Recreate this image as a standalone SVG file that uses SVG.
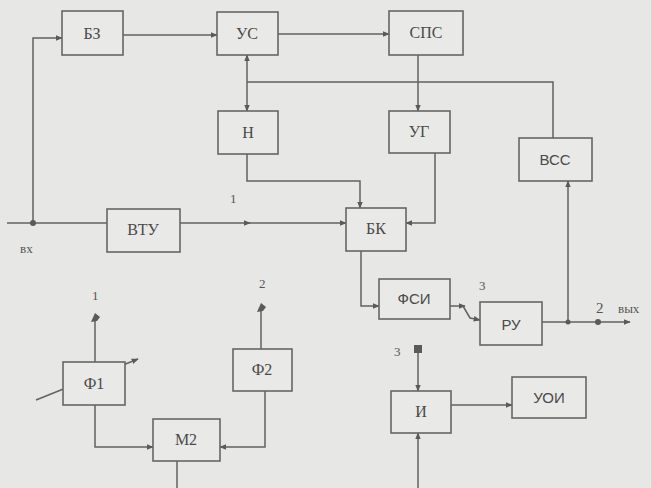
<svg xmlns="http://www.w3.org/2000/svg" width="651" height="488" viewBox="0 0 651 488">
<defs>
<marker id="ar" viewBox="0 0 10 10" refX="9" refY="5" markerWidth="7" markerHeight="7" orient="auto" markerUnits="userSpaceOnUse">
<path d="M0,1 L10,5 L0,9 z" fill="#5a5a5a"/>
</marker>
<style>
.b{fill:#e9e9e7;stroke:#666;stroke-width:1.6}
.l{fill:none;stroke:#626262;stroke-width:1.5}
.t{font-family:"Liberation Serif","DejaVu Serif",serif;font-size:16px;fill:#4a4a4a;text-anchor:middle}
.s{font-family:"Liberation Sans","DejaVu Sans",sans-serif;font-size:15px;fill:#4a4a4a;text-anchor:middle}
.n{font-family:"Liberation Serif","DejaVu Serif",serif;font-size:13px;fill:#555}
.d{fill:#5a5a5a}
</style>
</defs>
<rect width="651" height="488" fill="#e7e7e5"/>
<g id="connectors">
<polyline class="l" points="7,223 107,223"/>
<polyline class="l" points="33,223 33,38 62,38" marker-end="url(#ar)"/>
<polyline class="l" points="123,35 217,35" marker-end="url(#ar)"/>
<polyline class="l" points="278,34 389,34" marker-end="url(#ar)"/>
<polyline class="l" points="247,82 247,55" marker-end="url(#ar)"/>
<polyline class="l" points="247,82 247,111" marker-end="url(#ar)"/>
<polyline class="l" points="247,82 553,82 553,138"/>
<polyline class="l" points="418,55 418,111" marker-end="url(#ar)"/>
<polyline class="l" points="247,154 247,181 360,181 360,208" marker-end="url(#ar)"/>
<polyline class="l" points="435,153 435,223 406,223" marker-end="url(#ar)"/>
<polyline class="l" points="180,223 250,223" marker-end="url(#ar)"/>
<polyline class="l" points="248,223 346,223" marker-end="url(#ar)"/>
<polyline class="l" points="361,251 361,306 379,306" marker-end="url(#ar)"/>
<polyline class="l" points="450,306 465,306" marker-end="url(#ar)"/>
<polyline class="l" points="463,306 470,318 480,320" marker-end="url(#ar)"/>
<polyline class="l" points="542,322 630,322" marker-end="url(#ar)"/>
<polyline class="l" points="568,322 568,181" marker-end="url(#ar)"/>
<polyline class="l" points="95,362 95,317"/>
<polyline class="l" points="261,349 261,307"/>
<polyline class="l" points="95,405 95,447 153,447" marker-end="url(#ar)"/>
<polyline class="l" points="265,391 265,447 220,447" marker-end="url(#ar)"/>
<polyline class="l" points="177,461 177,488"/>
<polyline class="l" points="36,400 138,359" marker-end="url(#ar)"/>
<polyline class="l" points="418,349 418,391" marker-end="url(#ar)"/>
<polyline class="l" points="418,488 418,433" marker-end="url(#ar)"/>
<polyline class="l" points="451,405 512,405" marker-end="url(#ar)"/>
<circle class="d" cx="33" cy="223" r="3"/>
<circle class="d" cx="568" cy="322" r="2.5"/>
<circle class="d" cx="598" cy="322" r="3"/>
<path class="d" d="M91,322 L95,313 L100,317 L97,321 z"/>
<path class="d" d="M257,312 L261,303 L266,307 L263,311 z"/>
<rect class="d" x="414" y="345" width="8" height="8"/>
</g>
<g id="BZ"><rect class="b" x="62" y="11" width="61" height="44"/><text class="t" x="92" y="39">БЗ</text></g>
<g id="US"><rect class="b" x="217" y="12" width="61" height="43"/><text class="t" x="247" y="39">УС</text></g>
<g id="SPS"><rect class="b" x="389" y="11" width="74" height="44"/><text class="t" x="426" y="38">СПС</text></g>
<g id="N"><rect class="b" x="218" y="111" width="60" height="43"/><text class="t" x="248" y="138">Н</text></g>
<g id="UG"><rect class="b" x="389" y="111" width="61" height="42"/><text class="t" x="419" y="137">УГ</text></g>
<g id="VSS"><rect class="b" x="519" y="138" width="73" height="43"/><text class="s" x="555" y="165">ВСС</text></g>
<g id="VTU"><rect class="b" x="107" y="209" width="73" height="43"/><text class="t" x="143" y="235">ВТУ</text></g>
<g id="BK"><rect class="b" x="346" y="208" width="60" height="43"/><text class="t" x="376" y="234">БК</text></g>
<g id="FSI"><rect class="b" x="379" y="279" width="71" height="40"/><text class="s" x="414" y="304">ФСИ</text></g>
<g id="RU"><rect class="b" x="480" y="302" width="62" height="43"/><text class="s" x="511" y="330">РУ</text></g>
<g id="F1"><rect class="b" x="63" y="362" width="62" height="43"/><text class="t" x="94" y="389">Ф1</text></g>
<g id="F2"><rect class="b" x="233" y="349" width="59" height="42"/><text class="t" x="262" y="375">Ф2</text></g>
<g id="M2"><rect class="b" x="153" y="419" width="67" height="42"/><text class="t" x="186" y="445">М2</text></g>
<g id="I"><rect class="b" x="391" y="391" width="60" height="42"/><text class="t" x="421" y="417">И</text></g>
<g id="UOI"><rect class="b" x="512" y="377" width="74" height="41"/><text class="s" x="549" y="403">УОИ</text></g>
<g id="labels">
<text class="n" x="20" y="253">вх</text>
<text class="n" x="230" y="203">1</text>
<text class="n" x="479" y="290">3</text>
<text class="n" x="596" y="313" style="font-size:15px">2</text>
<text class="n" x="618" y="313">вых</text>
<text class="n" x="92" y="300">1</text>
<text class="n" x="259" y="288">2</text>
<text class="n" x="394" y="356">3</text>
</g>
</svg>
